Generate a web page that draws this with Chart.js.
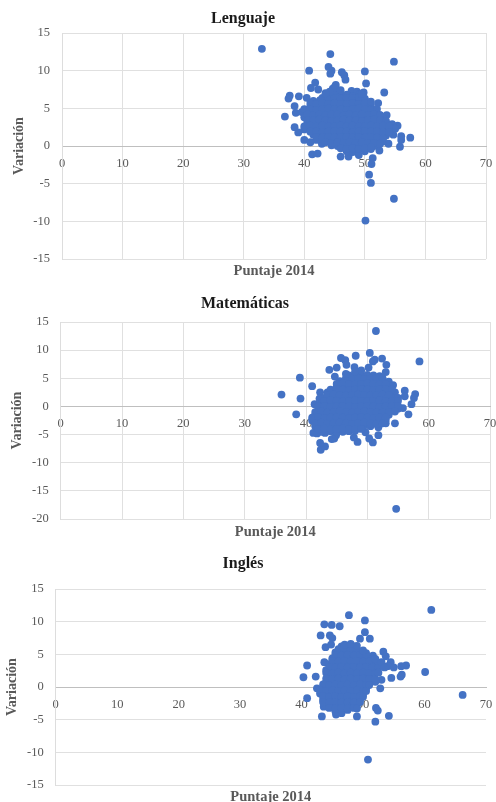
<!DOCTYPE html>
<html>
<head>
<meta charset="utf-8">
<style>
  html, body { margin: 0; padding: 0; background: #fff; }
  body { position: relative; width: 496px; height: 802px; overflow: hidden; }
  canvas { position: absolute; left: 0; }
</style>
</head>
<body>
<canvas id="chartLenguaje" width="496" height="280" style="top:0"></canvas>
<canvas id="chartMatematicas" width="496" height="260" style="top:285px"></canvas>
<canvas id="chartIngles" width="496" height="261" style="top:545px"></canvas>
<script src="https://cdn.jsdelivr.net/npm/chart.js"></script>
<script>
const xTicks = [0, 10, 20, 30, 40, 50, 60, 70];

const lenguajeX = [
  33, 44.3, 54.8, 44, 44.5, 44.3, 40.8, 46.2, 46.6, 46.8, 50, 50.2, 41.8, 41.1, 42.3, 53.2, 49.8, 52.2, 37.6, 37.4, 39.1, 40.4, 38.4, 38.6, 36.8, 38.4, 39, 40, 41, 42.9, 41.3, 42.2, 46, 47.3, 51.3, 51.1, 50.7, 51, 54.8, 50.1, 52.4, 55.8, 56, 57.5, 56, 55.4, 53.6, 53.9, 54.7, 45.2, 44.7, 47.8, 48.7,
  44.1, 45, 46.1, 47, 48, 49.1,
  41.5, 42.6, 43.5, 44.4, 45.5, 46.6, 47.5, 48.4, 49.5, 50.6,
  41, 42, 43.1, 44, 45, 46.1, 47, 48, 49, 50, 51,
  39.6, 40.5, 41.5, 42.5, 43.4, 44.5, 45.5, 46.5, 47.5, 48.4, 49.5, 50.5, 51.5, 52.5,
  40, 41, 42, 43, 44.1, 45, 46, 47, 48, 49.1, 50, 51, 52, 53,
  40.5, 41.5, 42.5, 43.5, 44.4, 45.5, 46.5, 47.5, 48.5, 49.5, 50.5, 51.5, 52.5, 53.5, 54.5,
  40, 41, 42, 43, 44, 45, 46, 47, 48, 49, 50, 51, 52, 53, 54, 55,
  41.5, 42.5, 43.5, 44.5, 45.5, 46.5, 47.5, 48.5, 49.5, 50.5, 51.5, 52.5, 53.5,
  42, 43, 44, 45, 46, 47, 48, 49, 50, 51, 52, 53,
  44.5, 45.5, 46.5, 47.5, 48.5, 49.5, 50.5, 51.5,
  47, 48, 49, 50, 51,
  43, 44, 45, 46, 47, 48, 49, 50,
  41, 42, 43, 44, 45, 46, 47, 48, 49, 50, 51,
  40, 41, 42, 43, 44, 45, 46, 47, 48, 49, 50, 51, 52,
  40.5, 41.5, 42.5, 43.5, 44.5, 45.5, 46.5, 47.5, 48.5, 49.5, 50.5, 51.5, 52.5,
  40.5, 41.5, 42.5, 43.5, 44.5, 45.5, 46.5, 47.5, 48.5, 49.5, 50.5, 51.5, 52.5, 53.5,
  40, 41, 42, 43, 44, 45, 46, 47, 48, 49, 50, 51, 52, 53, 54,
  41, 42, 43, 44, 45, 46, 47, 48, 49, 50, 51, 52, 53, 54,
  42, 43, 44, 45, 46, 47, 48, 49, 50, 51, 52, 53,
  43.5, 44.5, 45.5, 46.5, 47.5, 48.5, 49.5, 50.5, 51.5, 52.5,
  46, 47, 48, 49, 50, 51,
  45, 44.2, 46, 43.5, 49.5, 51
];
const lenguajeY = [
  12.9, 12.2, 11.2, 10.5, 10, 9.6, 10, 9.8, 9.4, 8.8, 9.9, 8.3, 8.4, 7.7, 7.5, 7.1, 7.1, 5.7, 6.7, 6.3, 6.6, 6.4, 5.3, 4.4, 3.9, 2.5, 1.8, 0.8, 0.5, 0.3, -1.1, -1, -1.4, -1.4, -1.6, -2.4, -3.8, -4.9, -7, -9.9, -0.6, -0.1, 0.8, 1.1, 1.3, 2.7, 4.1, 0.3, 1.5, 8.1, 7.6, 7.3, 7.2,
  6.8, 7, 6.7, 6.8, 6.6, 6.8,
  6, 6.1, 6, 5.9, 6.1, 6, 6, 5.9, 6.1, 5.8,
  5.3, 5.2, 5.4, 5.3, 5.2, 5.3, 5.4, 5.3, 5.2, 5.3, 5.1,
  4.5, 4.6, 4.4, 4.5, 4.6, 4.5, 4.4, 4.6, 4.5, 4.5, 4.4, 4.6, 4.5, 4.1,
  3.8, 3.7, 3.8, 3.9, 3.7, 3.8, 3.8, 3.7, 3.9, 3.8, 3.7, 3.8, 3.8, 3.6,
  3, 3.1, 3, 2.9, 3.1, 3, 3, 3.1, 2.9, 3, 3, 3.1, 3, 2.9, 2.9,
  2.2, 2.3, 2.3, 2.2, 2.4, 2.3, 2.2, 2.3, 2.4, 2.3, 2.2, 2.3, 2.3, 2.2, 2.3, 2.3,
  1.5, 1.6, 1.5, 1.4, 1.5, 1.6, 1.5, 1.5, 1.4, 1.6, 1.5, 1.5, 1.4,
  0.8, 0.9, 0.7, 0.8, 0.8, 0.7, 0.9, 0.8, 0.8, 0.7, 0.8, 0.6,
  0.1, 0, 0.1, 0, 0.1, 0, 0.1, 0,
  -0.7, -0.8, -1.2, -0.7, -0.4,
  6.4, 6.5, 6.4, 6.3, 6.4, 6.4, 6.5, 6.3,
  5.7, 5.6, 5.7, 5.6, 5.7, 5.6, 5.6, 5.7, 5.6, 5.7, 5.5,
  4.9, 4.9, 4.8, 4.9, 5, 4.9, 4.9, 4.8, 4.9, 5, 4.9, 4.8, 4.9,
  4.2, 4.1, 4.2, 4.1, 4.2, 4.2, 4.1, 4.2, 4.1, 4.2, 4.1, 4.2, 4.1,
  3.4, 3.4, 3.5, 3.4, 3.3, 3.4, 3.5, 3.4, 3.4, 3.3, 3.4, 3.5, 3.4, 3.3,
  2.6, 2.7, 2.6, 2.7, 2.6, 2.6, 2.7, 2.6, 2.7, 2.6, 2.6, 2.7, 2.6, 2.7, 2.6,
  1.9, 1.9, 1.8, 1.9, 2, 1.9, 1.9, 1.8, 1.9, 2, 1.9, 1.9, 1.8, 1.8,
  1.2, 1.1, 1.2, 1.1, 1.2, 1.2, 1.1, 1.2, 1.1, 1.2, 1.1, 1,
  0.5, 0.4, 0.5, 0.4, 0.5, 0.4, 0.5, 0.4, 0.4, 0.3,
  -0.3, -0.4, -0.3, -0.4, -0.3, -0.2,
  7.8, 7.2, 7.4, 7, 6.9, 5.9
];

const matematicasX = [
  51.4, 50.4, 48.1, 45.7, 46.4, 46.6, 45, 43.8, 44.7, 58.5, 52.4, 51.2, 50.9, 53.1, 53, 50.2, 47.9, 39, 41, 36, 39.1, 38.4, 41.4, 42.3, 42.2, 56.1, 57.8, 57.6, 57.2, 56.7, 55.8, 54.2, 54.5, 53, 51.8, 51.8, 50.9, 50.3, 49.7, 48.4, 47.8, 44.6, 44.2, 44.9, 42.4, 43.1, 42.3, 43.1, 41.2, 41.8, 54.7, 56.1,
  47, 48, 49, 50, 51, 52,
  45.5, 46.5, 47.5, 48.5, 49.5, 50.5, 51.5, 52.5, 53.5,
  45, 46, 47, 48, 49, 50, 51, 52, 53, 54,
  43.5, 44.5, 45.5, 46.5, 47.5, 48.5, 49.5, 50.5, 51.5, 52.5, 53.5, 54.5,
  43, 44, 45, 46, 47, 48, 49, 50, 51, 52, 53, 54, 55,
  42.5, 43.5, 44.5, 45.5, 46.5, 47.5, 48.5, 49.5, 50.5, 51.5, 52.5, 53.5, 54.5,
  42, 43, 44, 45, 46, 47, 48, 49, 50, 51, 52, 53, 54, 55,
  41.5, 42.5, 43.5, 44.5, 45.5, 46.5, 47.5, 48.5, 49.5, 50.5, 51.5, 52.5, 53.5,
  41, 42, 43, 44, 45, 46, 47, 48, 49, 50, 51, 52, 53,
  41.5, 42.5, 43.5, 44.5, 45.5, 46.5, 47.5, 48.5, 49.5, 50.5,
  42.5, 44, 45, 46, 47, 48,
  46.5, 47.5, 48.5, 49.5, 50.5, 51.5, 52.5,
  45, 46, 47, 48, 49, 50, 51, 52, 53,
  44, 45, 46, 47, 48, 49, 50, 51, 52, 53, 54,
  43.5, 44.5, 45.5, 46.5, 47.5, 48.5, 49.5, 50.5, 51.5, 52.5, 53.5,
  43, 44, 45, 46, 47, 48, 49, 50, 51, 52, 53, 54, 55,
  42, 43, 44, 45, 46, 47, 48, 49, 50, 51, 52, 53, 54, 55,
  41.5, 42.5, 43.5, 44.5, 45.5, 46.5, 47.5, 48.5, 49.5, 50.5, 51.5, 52.5, 53.5, 54.5,
  41, 42, 43, 44, 45, 46, 47, 48, 49, 50, 51, 52, 53,
  41.5, 42.5, 43.5, 44.5, 45.5, 46.5, 47.5, 48.5, 49.5, 50.5, 51.5, 52.5,
  42, 43, 44, 45, 46, 47, 48, 49,
  49, 48, 46.5
];
const matematicasY = [
  13.4, 9.5, 9, 8.6, 8.2, 7.4, 6.9, 6.5, 5.3, 8, 8.5, 8.3, 8, 7.4, 6.1, 6.9, 7, 5.1, 3.6, 2.1, 1.4, -1.4, 0.4, 2.5, 1.4, 2.8, 2.2, 1.5, 0.4, -1.4, -0.3, 3.8, -3, -3, -3.7, -5.1, -6.4, -5.7, -4.6, -6.3, -5.5, -5.7, -5.8, -5.1, -7.7, -7.1, -6.5, -4.7, -4.7, -4.8, -18.2, 1.8,
  5.5, 5.7, 5.5, 5.6, 5.5, 5.4,
  4.5, 4.6, 4.5, 4.4, 4.6, 4.5, 4.5, 4.6, 4.4,
  3.5, 3.6, 3.4, 3.5, 3.6, 3.5, 3.4, 3.5, 3.6, 3.5,
  2.5, 2.6, 2.4, 2.5, 2.6, 2.5, 2.4, 2.5, 2.6, 2.5, 2.4, 2.5,
  1.5, 1.6, 1.4, 1.5, 1.6, 1.5, 1.4, 1.5, 1.6, 1.5, 1.4, 1.5, 1.5,
  0.5, 0.6, 0.4, 0.5, 0.6, 0.5, 0.4, 0.5, 0.6, 0.5, 0.4, 0.5, 0.5,
  -0.5, -0.4, -0.6, -0.5, -0.4, -0.5, -0.6, -0.5, -0.4, -0.5, -0.6, -0.5, -0.5, -0.4,
  -1.5, -1.4, -1.6, -1.5, -1.4, -1.5, -1.6, -1.5, -1.4, -1.5, -1.6, -1.5, -1.5,
  -2.5, -2.4, -2.6, -2.5, -2.4, -2.5, -2.6, -2.5, -2.4, -2.5, -2.6, -2.5, -2.4,
  -3.5, -3.4, -3.6, -3.5, -3.4, -3.5, -3.6, -3.5, -3.4, -3.5,
  -4.5, -4.4, -4.6, -4.5, -4.4, -4.3,
  5, 5.1, 5, 4.9, 5, 5.1, 5,
  4, 4.1, 4, 3.9, 4, 4.1, 4, 3.9, 4,
  3, 3.1, 3, 2.9, 3, 3.1, 3, 2.9, 3, 3.1, 3,
  2, 2.1, 2, 1.9, 2, 2.1, 2, 1.9, 2, 2.1, 2,
  1, 1.1, 1, 0.9, 1, 1.1, 1, 0.9, 1, 1.1, 1, 0.9, 1,
  0, 0.1, -0.1, 0, 0.1, 0, -0.1, 0, 0.1, 0, -0.1, 0, 0, 0.1,
  -1, -0.9, -1.1, -1, -0.9, -1, -1.1, -1, -0.9, -1, -1.1, -1, -1, -0.9,
  -2, -1.9, -2.1, -2, -1.9, -2, -2.1, -2, -1.9, -2, -2.1, -2, -2,
  -3, -2.9, -3.1, -3, -2.9, -3, -3.1, -3, -2.9, -3, -3.1, -3,
  -4, -3.9, -4.1, -4, -3.9, -4, -4.1, -4,
  6.4, 6.2, 5.8
];

const inglesX = [
  61.1, 66.2, 60.1, 57, 56.2, 56.3, 56.1, 54.6, 47.7, 50.3, 50.3, 43.7, 44.9, 46.2, 43.1, 44.6, 45, 49.5, 51.1, 43.9, 44.8, 53.3, 51.6, 53.7, 54.5, 43.7, 40.9, 40.3, 42.3, 40.9, 42.5, 43.3, 49, 52, 52.1, 52.4, 54.2, 50.8, 45.6, 52.8, 53, 43.6, 46.5,
  46.5, 47.5, 48.5,
  45.5, 46.5, 47.5, 48.5, 49.5, 50.5,
  45, 46, 47, 48, 49, 50, 51,
  44.5, 45.5, 46.5, 47.5, 48.5, 49.5, 50.5, 51.5, 52.5,
  44, 45, 46, 47, 48, 49, 50, 51, 52,
  44.5, 45.5, 46.5, 47.5, 48.5, 49.5, 50.5, 51.5,
  44, 45, 46, 47, 48, 49, 50, 51, 52,
  43.5, 44.5, 45.5, 46.5, 47.5, 48.5, 49.5, 50.5,
  43, 44, 45, 46, 47, 48, 49, 50,
  43.5, 44.5, 45.5, 46.5, 47.5, 48.5, 49.5,
  44, 45, 46, 47, 48, 49,
  45.5, 46.5, 47.5,
  46, 47, 48, 49,
  45.5, 46.5, 47.5, 48.5, 49.5, 50.5,
  45, 46, 47, 48, 49, 50, 51,
  44.5, 45.5, 46.5, 47.5, 48.5, 49.5, 50.5, 51.5, 52.5,
  44, 45, 46, 47, 48, 49, 50, 51, 52,
  44, 45, 46, 47, 48, 49, 50, 51, 52,
  43.5, 44.5, 45.5, 46.5, 47.5, 48.5, 49.5, 50.5, 51,
  43, 44, 45, 46, 47, 48, 49, 50, 50.5,
  43.5, 44.5, 45.5, 46.5, 47.5, 48.5, 49.5, 50,
  43.5, 44.5, 45.5, 46.5, 47.5, 48.5, 49.5,
  44.5, 45.5, 46.5, 47.5, 48.5, 49,
  47, 48, 49, 50, 52, 53, 54, 55, 53.5, 52.5
];
const inglesY = [
  11.8, -1.2, 2.3, 3.3, 3.2, 1.9, 1.6, 1.4, 11, 10.2, 8.4, 9.6, 9.5, 9.3, 7.9, 7.9, 7.5, 7.4, 7.4, 6.1, 6.5, 5.4, 4.8, 4.7, 3.8, 3.8, 3.3, 1.5, 1.6, -1.7, -0.2, -4.5, -4.5, -5.3, -3.2, -3.6, -4.4, -11.1, -4.2, -0.2, 1.1, -3, -4,
  6.2, 6.3, 6.2,
  5.3, 5.4, 5.3, 5.2, 5.4, 5.2,
  4.4, 4.5, 4.3, 4.4, 4.5, 4.4, 4.2,
  3.5, 3.6, 3.4, 3.5, 3.6, 3.5, 3.4, 3.5, 3.4,
  2.6, 2.5, 2.7, 2.6, 2.5, 2.6, 2.7, 2.6, 2.5,
  1.7, 1.8, 1.6, 1.7, 1.8, 1.7, 1.6, 1.7,
  0.8, 0.9, 0.7, 0.8, 0.9, 0.8, 0.7, 0.8, 0.8,
  -0.1, 0, -0.2, -0.1, 0, -0.1, -0.2, -0.1,
  -1, -0.9, -1.1, -1, -0.9, -1, -1.1, -1.1,
  -1.9, -1.8, -2, -1.9, -1.8, -1.9, -2,
  -2.8, -2.7, -2.9, -2.8, -2.7, -2.9,
  -3.7, -3.6, -3.5,
  5.8, 5.9, 5.8, 5.7,
  4.9, 4.8, 4.9, 4.8, 4.9, 4.8,
  4, 3.9, 4, 3.9, 4, 3.9, 3.9,
  3.1, 3, 3.1, 3, 3.1, 3, 3.1, 3, 3,
  2.2, 2.1, 2.2, 2.1, 2.2, 2.1, 2.2, 2.1, 2.1,
  1.3, 1.2, 1.3, 1.2, 1.3, 1.2, 1.3, 1.2, 1.2,
  0.4, 0.3, 0.4, 0.3, 0.4, 0.3, 0.4, 0.3, 0.3,
  -0.5, -0.6, -0.5, -0.6, -0.5, -0.6, -0.5, -0.6, -0.6,
  -1.4, -1.5, -1.4, -1.5, -1.4, -1.5, -1.4, -1.5,
  -2.3, -2.4, -2.3, -2.4, -2.3, -2.4, -2.3,
  -3.2, -3.3, -3.2, -3.3, -3.2, -3.3,
  6.5, 6.6, 6.3, 5.6, 4.3, 3.8, 3.2, 3, 3, 2.2
];

function toPoints(xs, ys) {
    return xs.map(function(x, i) {
        return { x: x, y: ys[i] };
    });
}

// cfg.left / cfg.right fix the plot area horizontally, the title and subtitle paddings vertically
function drawChart(id, cfg) {
    new Chart(document.getElementById(id), {
        type: 'scatter',
        data: {
            datasets: [{
                data: toPoints(cfg.xs, cfg.ys),
                backgroundColor: '#4472C4',
                borderWidth: 0,
                pointRadius: 3.9,
                clip: false
            }]
        },
        options: {
            responsive: false,
            animation: false,
            layout: { padding: { left: 0, right: 496 - cfg.right, top: 0, bottom: 0 } },
            scales: {
                x: {
                    type: 'linear',
                    position: { y: 0 },
                    min: 0,
                    max: 70,
                    afterBuildTicks: function(axis) {
                        axis.ticks = xTicks.map(function(v) { return { value: v }; });
                    },
                    afterFit: function(axis) {
                        // end labels may overhang, the plot area must not shrink for them
                        axis.paddingLeft = 0;
                        axis.paddingRight = 0;
                    },
                    grid: { display: cfg.vGrid, color: '#E0E0E0', lineWidth: 1, drawTicks: false },
                    border: { display: true, color: '#BFBFBF', width: 1 },
                    ticks: {
                        color: '#595959',
                        font: { family: 'Liberation Serif', size: 12.5 },
                        padding: 10,
                        maxRotation: 0
                    }
                },
                y: {
                    min: cfg.yMin,
                    max: cfg.yMax,
                    afterFit: function(axis) {
                        axis.width = cfg.left;
                    },
                    grid: { color: '#E0E0E0', lineWidth: 1, drawTicks: false },
                    border: { display: true, color: '#DDDDDD', width: 1 },
                    ticks: {
                        stepSize: 5,
                        color: '#595959',
                        font: { family: 'Liberation Serif', size: 12.5 },
                        padding: 12
                    },
                    title: {
                        display: true,
                        text: 'Variación',
                        color: '#595959',
                        font: { family: 'Liberation Serif', size: 14, weight: 'bold' },
                        padding: { top: cfg.yTitleX - 7, bottom: 0 }
                    }
                }
            },
            plugins: {
                legend: { display: false },
                tooltip: { enabled: false },
                title: {
                    display: true,
                    text: cfg.title,
                    color: '#1A1A1A',
                    font: { family: 'Liberation Serif', size: 16, weight: 'bold', lineHeight: 1.2 },
                    padding: { top: 8.9, bottom: cfg.titleBottom }
                },
                subtitle: {
                    display: true,
                    position: 'bottom',
                    fullSize: false,
                    text: 'Puntaje 2014',
                    color: '#595959',
                    font: { family: 'Liberation Serif', size: 14.5, weight: 'bold', lineHeight: 1.2 },
                    padding: { top: cfg.subTop, bottom: cfg.subBottom }
                }
            }
        }
    });
}

document.addEventListener('DOMContentLoaded', function() {
    drawChart('chartLenguaje', {
        title: 'Lenguaje', xs: lenguajeX, ys: lenguajeY, yMin: -15, yMax: 15,
        left: 62, right: 486, vGrid: true, yTitleX: 18,
        titleBottom: 4.9, subTop: 3.5, subBottom: 0.1
    });
    drawChart('chartMatematicas', {
        title: 'Matemáticas', xs: matematicasX, ys: matematicasY, yMin: -20, yMax: 15,
        left: 60.7, right: 490, vGrid: true, yTitleX: 16,
        titleBottom: 8.9, subTop: 4.5, subBottom: 4.1
    });
    drawChart('chartIngles', {
        title: 'Inglés', xs: inglesX, ys: inglesY, yMin: -15, yMax: 15,
        left: 55.7, right: 486, vGrid: false, yTitleX: 11,
        titleBottom: 15.9, subTop: 3.5, subBottom: 0
    });
});
</script>
</body>
</html>
